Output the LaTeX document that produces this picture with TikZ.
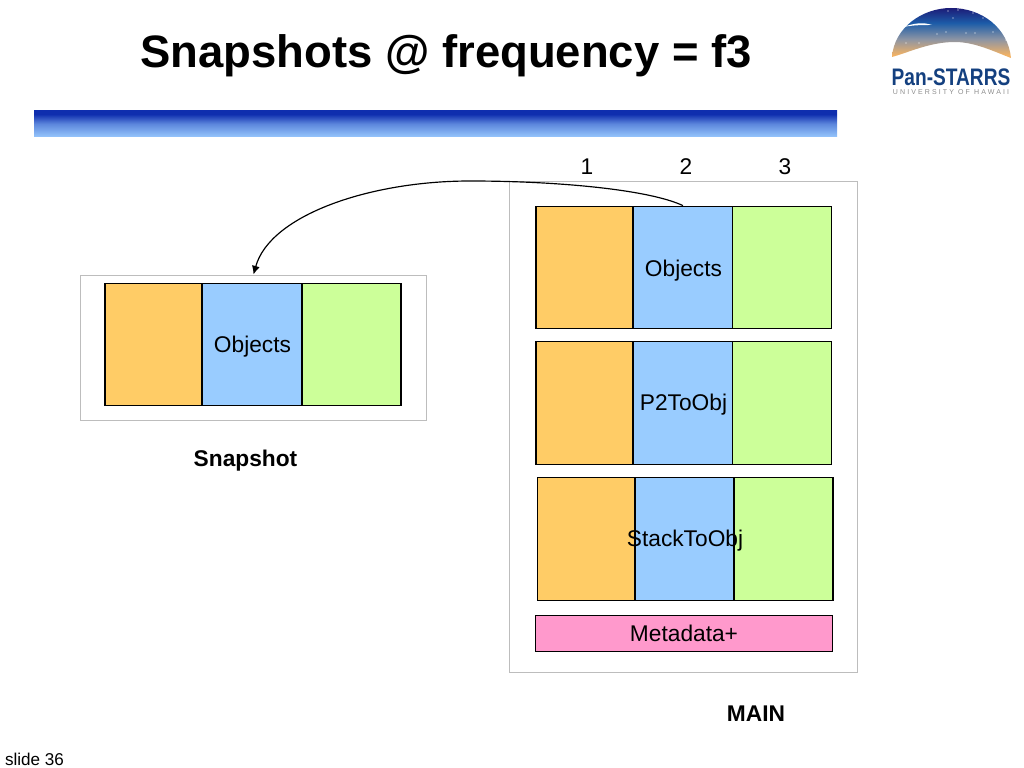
\documentclass[tikz,border=0pt]{standalone}
\usepackage{fontspec}
\usetikzlibrary{arrows.meta}
\setmainfont{Liberation Sans}
\definecolor{cellorange}{HTML}{FFCC66}
\definecolor{cellblue}{HTML}{99CCFF}
\definecolor{cellgreen}{HTML}{CCFF99}
\definecolor{cellpink}{HTML}{FF99CC}
\definecolor{framegrey}{HTML}{BDBDBD}
\definecolor{logoblue}{HTML}{14407F}
\definecolor{barone}{HTML}{0F2EAE}
\definecolor{bartwo}{HTML}{5C86DC}
\definecolor{barthree}{HTML}{96C6FC}
\definecolor{skyone}{HTML}{1C1C78}
\definecolor{skytwo}{HTML}{1C5CA8}
\definecolor{skythree}{HTML}{8C94A4}
\definecolor{skyfour}{HTML}{F2B264}
\pgfdeclareverticalshading{barfade}{100bp}{color(0bp)=(barthree); color(25bp)=(barthree); color(50bp)=(bartwo); color(68bp)=(barone); color(100bp)=(barone)}
\pgfdeclareverticalshading{logosky}{100bp}{color(0bp)=(skyfour); color(28bp)=(skyfour); color(44bp)=(skythree); color(60bp)=(skytwo); color(75bp)=(skyone); color(100bp)=(skyone)}
\tikzset{
  cell/.style={draw=black, line width=0.9pt, minimum width=2.97cm, minimum height=3.68cm, inner sep=0pt},
  frame/.style={draw=framegrey, line width=0.8pt, inner sep=0pt},
  lbl/.style={inner sep=0pt, font=\fontsize{19.4}{23}\selectfont},
  boldlbl/.style={inner sep=0pt, font=\fontsize{19.4}{23}\selectfont\bfseries},
}
\begin{document}
\begin{tikzpicture}[x=0.03cm, y=-0.03cm]
  \useasboundingbox (0,0) rectangle (1024,768);
  % title and bar
  \node[inner sep=0pt, font=\fontsize{38.8}{44}\selectfont\bfseries] (title) at (446,56) {Snapshots @ frequency = f3};
  \shade[shading=barfade] (34,110.5) rectangle (837,137);
  % logo
  \shade[shading=logosky]
    (892,57) .. controls (894,28) and (922,8) .. (951,8) .. controls (982,8) and (1008,28) .. (1011,58)
    .. controls (995,52) and (975,42) .. (955,42) .. controls (930,42) and (910,52) .. (892,57) -- cycle;
  \fill[white] (903,27) .. controls (915,23) and (923,22) .. (932,25) .. controls (922,25) and (914,25) .. (903,27) -- cycle;
  \foreach \sx/\sy in {948/11, 958/10, 973/13, 983/18, 953/18, 937/34, 946/32, 966/33, 975/33, 993/32, 906/43, 919/43, 1006/40}
    \fill[white] (\sx,\sy) circle (0.7);
  \node[inner sep=0pt, text=logoblue, xscale=0.8, font=\fontsize{20.4}{24}\selectfont\bfseries] (logoname) at (951,77) {Pan-STARRS};
  \node[inner sep=0pt, text=black!45, font=\fontsize{6}{7}\selectfont\addfontfeature{LetterSpace=30}] (logouni) at (951,92.5) {UNIVERSITY OF HAWAII};
  % grey frames
  \node[frame, minimum width=10.38cm, minimum height=4.35cm] (snapbox) at (253.5,347.5) {};
  \node[frame, minimum width=10.44cm, minimum height=14.73cm] (mainbox) at (683.5,426.5) {};
  % snapshot
  \node[cell, fill=cellorange, minimum width=2.91cm] (snapa) at (153.5,344.5) {};
  \node[cell, fill=cellgreen] (snapc) at (351.5,344.5) {};
  \node[cell, fill=cellblue] (snapb) at (252,344.5) {};
  \node[lbl] (snaplbl) at (252.5,347) {Objects};
  % main rows
  \foreach \rname/\rx/\ry/\rlbly/\rtext in {one/0/267.5/270.5/Objects, two/0/403/404.5/P2ToObj, three/1.5/539/541/StackToObj}{
    \node[cell, fill=cellorange, minimum width=2.91cm] (main\rname a) at (584.5+\rx,\ry) {};
    \node[cell, fill=cellgreen] (main\rname c) at (782+\rx,\ry) {};
    \node[cell, fill=cellblue] (main\rname b) at (683+\rx,\ry) {};
    \node[lbl] at (683.5+\rx,\rlbly) {\rtext};
  }
  \node[draw=black, line width=0.6pt, inner sep=0pt, fill=cellpink, minimum width=8.91cm, minimum height=1.08cm] (meta) at (683.5,633) {};
  \node[lbl] at (684,633) {Metadata+};
  % column numbers
  \node[lbl] (colone) at (587,166.5) {1};
  \node[lbl] (coltwo) at (686,166.5) {2};
  \node[lbl] (colthree) at (785,166.5) {3};
  % captions
  \node[boldlbl] (snapcap) at (245.5,461) {Snapshot};
  \node[boldlbl] (maincap) at (756,714) {MAIN};
  \node[inner sep=0pt, font=\fontsize{14.6}{17}\selectfont] (slidenum) at (34.5,759) {slide 36};
  % arrow
  \coordinate (bend) at (470,181);
  \draw[line width=1pt, -{Latex[length=2.6mm,width=2.4mm]}] (mainoneb.north) .. controls (650,190) and (560,181) .. (bend) .. controls (370,181) and (270,215) .. (snapbox.north);
\end{tikzpicture}
\end{document}
